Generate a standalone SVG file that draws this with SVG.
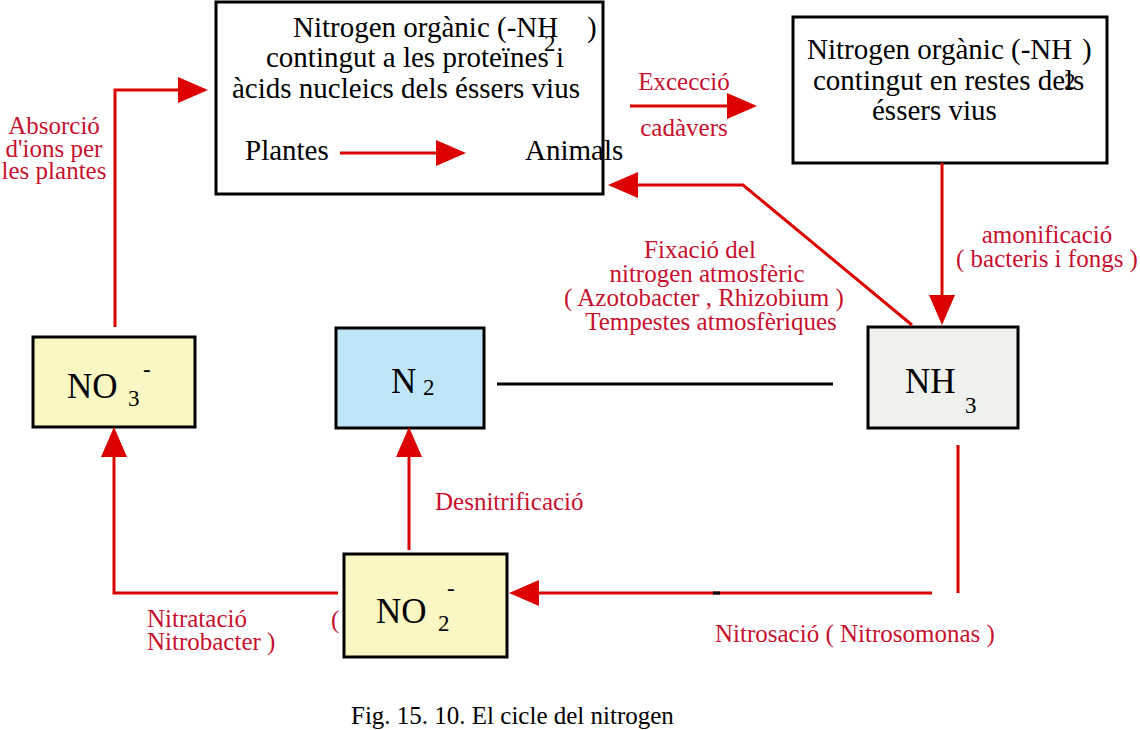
<svg xmlns="http://www.w3.org/2000/svg" width="1140" height="730" viewBox="0 0 1140 730">
<defs>
<marker id="ah" markerUnits="userSpaceOnUse" markerWidth="32" markerHeight="28" refX="0" refY="13" orient="auto">
<path d="M0,0 L30,13 L0,26 Z" fill="#dd0000"/>
</marker>
<style>
.box{fill:#ffffff;stroke:#000;stroke-width:3}
.yel{fill:#faf7c2;stroke:#000;stroke-width:3}
.blu{fill:#bfe6f8;stroke:#000;stroke-width:3}
.gry{fill:#eef1ec;stroke:#000;stroke-width:3}
.t{font-family:"Liberation Serif","Times New Roman",serif;font-size:29px;fill:#000}
.f{font-family:"Liberation Serif","Times New Roman",serif;font-size:35px;fill:#000}
.s{font-family:"Liberation Serif","Times New Roman",serif;font-size:23px;fill:#000}
.r{font-family:"Liberation Serif","Times New Roman",serif;font-size:25px;fill:#c8102e}
.m{text-anchor:middle}
.c{fill:none;stroke:#dd0000;stroke-width:3}
.ca{fill:none;stroke:#dd0000;stroke-width:3;marker-end:url(#ah)}
.cap{font-family:"Liberation Serif","Times New Roman",serif;font-size:25px;fill:#000}
</style>
</defs>
<rect width="1140" height="730" fill="#ffffff"/>

<g id="organic-living">
<rect class="box" x="216" y="2" width="387" height="192"/>
<text class="t" x="293" y="37">Nitrogen orgànic (-NH</text>
<text class="s" x="544" y="51">2</text>
<text class="t" x="587" y="37">)</text>
<text class="t" x="266" y="67">contingut a les proteïnes i</text>
<text class="t" x="232" y="98">àcids nucleics dels éssers vius</text>
<text class="t" x="245" y="160">Plantes</text>
<text class="t" x="525" y="160">Animals</text>
</g>

<g id="organic-remains">
<rect class="box" x="793" y="17" width="314" height="146"/>
<text class="t" x="807" y="59">Nitrogen orgànic (-NH</text>
<text class="s" x="1064" y="89">2</text>
<text class="t" x="1082" y="59">)</text>
<text class="t" x="813" y="90">contingut en restes dels</text>
<text class="t" x="872" y="120">éssers vius</text>
</g>

<g id="nh3">
<rect class="gry" x="868" y="327" width="150" height="101"/>
<text class="f" x="905" y="393">NH</text>
<text class="s" x="965" y="413">3</text>
</g>

<g id="n2">
<rect class="blu" x="336" y="328" width="148" height="100"/>
<text class="f" x="391" y="393">N</text>
<text class="s" x="423" y="395">2</text>
</g>

<g id="no3">
<rect class="yel" x="33" y="337" width="162" height="90"/>
<text class="f" x="67" y="398">NO</text>
<text class="s" x="128" y="406">3</text>
<text class="s" x="143" y="377">-</text>
</g>

<g id="no2">
<rect class="yel" x="344" y="554" width="163" height="103"/>
<text class="f" x="376" y="623">NO</text>
<text class="s" x="438" y="631">2</text>
<text class="s" x="447" y="596">-</text>
</g>

<g id="connectors">
<path class="ca" d="M115,327 V90 H178"/>
<path class="ca" d="M340,153 H436"/>
<path class="ca" d="M630,106 H727"/>
<path class="ca" d="M912,325 L743,185 H638"/>
<path class="ca" d="M942,163 V295"/>
<path class="c" d="M958,445 V593"/>
<path class="ca" d="M932,593 H539"/>
<path class="ca" d="M409,550 V457"/>
<path class="ca" d="M338,593 H114 V457"/>
<path d="M497,384 H833" fill="none" stroke="#000" stroke-width="3"/>
<path d="M713,593 H720" fill="none" stroke="#000" stroke-width="3"/>
</g>

<g id="labels">
<text class="r m" x="54" y="134">Absorció</text>
<text class="r m" x="54" y="157">d'ions per</text>
<text class="r m" x="54" y="179">les plantes</text>
<text class="r m" x="684" y="90">Excecció</text>
<text class="r m" x="684" y="136">cadàvers</text>
<text class="r m" x="1047" y="243">amonificació</text>
<text class="r m" x="1047" y="267">( bacteris i fongs )</text>
<text class="r m" x="700" y="258">Fixació del</text>
<text class="r m" x="707" y="282">nitrogen atmosfèric</text>
<text class="r m" x="704" y="306">( Azotobacter , Rhizobium )</text>
<text class="r m" x="711" y="330">Tempestes atmosfèriques</text>
<text class="r" x="435" y="510">Desnitrificació</text>
<text class="r" x="147" y="627">Nitratació</text>
<text class="r" x="147" y="650">Nitrobacter )</text>
<text class="r" x="331" y="628">(</text>
<text class="r" x="715" y="642">Nitrosació ( Nitrosomonas )</text>
</g>

<text class="cap" x="351" y="724">Fig. 15. 10. El cicle del nitrogen</text>
</svg>
